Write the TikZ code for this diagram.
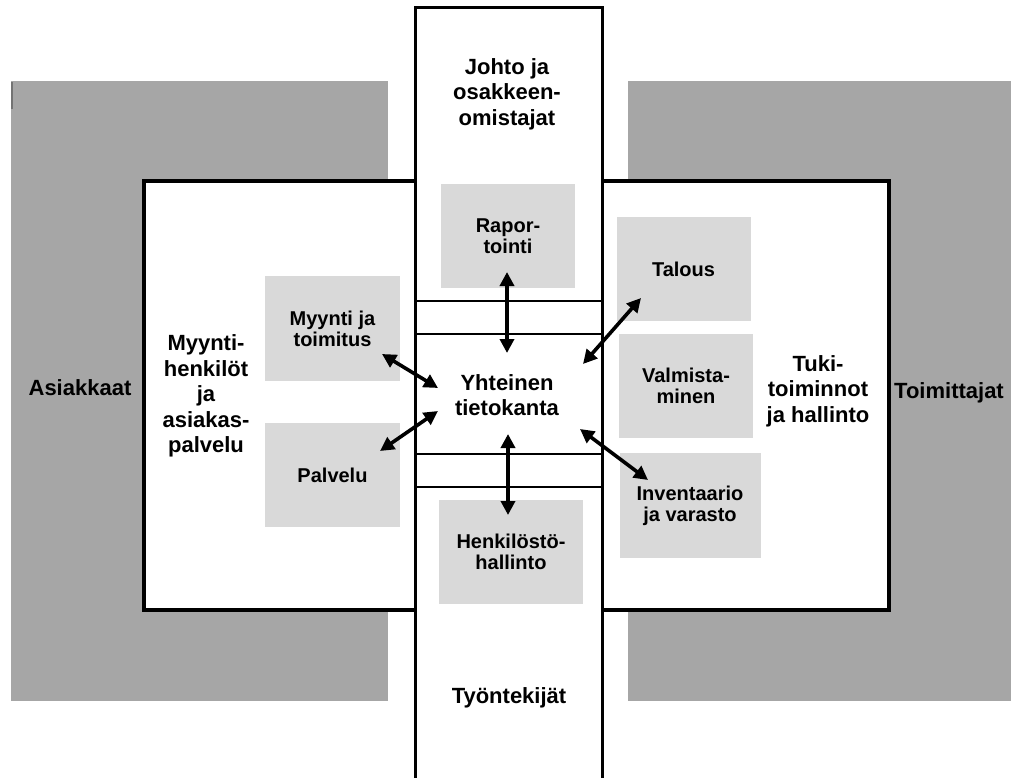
\documentclass[tikz,border=0pt]{standalone}
\usepackage{fontspec}
\setmainfont{Liberation Sans}
\usetikzlibrary{arrows.meta}
\definecolor{darkgray}{HTML}{A6A6A6}
\definecolor{lightgray}{HTML}{D9D9D9}
\tikzset{
  outer/.style={fill=darkgray, draw=none},
  mainframe/.style={fill=white, draw=black, line width=4pt},
  column/.style={fill=white, draw=black, line width=3pt},
  band/.style={draw=black, line width=1.4pt},
  lbox/.style={fill=lightgray, draw=none, inner sep=0pt, align=center,
    font=\bfseries\fontsize{20}{21}\selectfont},
  bigtext/.style={inner sep=0pt, align=center, font=\bfseries\fontsize{22}{25.5}\selectfont},
  link/.style={line width=3.6pt, {Triangle[length=14pt,width=14pt]}-{Triangle[length=14pt,width=14pt]}},
}
\begin{document}
\begin{tikzpicture}[x=1pt,y=-1pt]
\useasboundingbox (0,0) rectangle (1011,778);
% outer grey areas
\fill[outer] (11,81) rectangle (388,701);
\fill[outer] (628,81) rectangle (1011,701);
\draw[black!55, line width=2pt] (12,82) -- (12,109);
% main frame
\draw[mainframe] (143.5,181) rectangle (889,610);
% central column
\draw[column] (415,8) rectangle (602,800);
\draw[band] (415,301) -- (602,301);
\draw[band] (415,334) -- (602,334);
\draw[band] (415,454) -- (602,454);
\draw[band] (415,487) -- (602,487);
% light boxes
\node[lbox, minimum width=134pt, minimum height=104pt] (rap) at (508,236) {Rapor-\\tointi};
\node[lbox, minimum width=135pt, minimum height=105pt] (myy) at (332.5,328.5) {Myynti ja\\toimitus};
\node[lbox, minimum width=135pt, minimum height=104pt] (pal) at (332.5,475) {Palvelu};
\node[lbox, minimum width=134pt, minimum height=104pt] (tal) at (683.5,269) {Talous};
\node[lbox, minimum width=134pt, minimum height=104pt] (val) at (686,386) {Valmista-\\minen};
\node[lbox, minimum width=141pt, minimum height=105pt] (inv) at (690,505.5) {Inventaario\\ja varasto};
\node[lbox, minimum width=144pt, minimum height=104pt] (hen) at (511,552) {Henkilöstö-\\hallinto};
% big labels
\node[bigtext] (asi) at (80,388) {Asiakkaat};
\node[bigtext] (toi) at (949,393) {Toimittajat};
\node[bigtext] (mhk) at (206,396) {Myynti-\\henkilöt\\ja\\asiakas-\\palvelu};
\node[bigtext] (tuk) at (818,391) {Tuki-\\toiminnot\\ja hallinto};
\node[bigtext] (joh) at (507,94) {Johto ja\\osakkeen-\\omistajat};
\node[bigtext] (tyo) at (509,698) {Työntekijät};
\node[bigtext] (db) at (507,395) {Yhteinen\\tietokanta};
% arrow end points
\coordinate (rapE) at (507,272);
\coordinate (rapD) at (507,353);
\coordinate (talE) at (641,298);
\coordinate (talD) at (583,364);
\coordinate (invE) at (648,480);
\coordinate (invD) at (580,429);
\coordinate (henE) at (508,515);
\coordinate (henD) at (508,434);
\coordinate (myyE) at (382,354);
\coordinate (myyD) at (438,388);
\coordinate (palE) at (380,451);
\coordinate (palD) at (438,411);
\draw[link] (rapE) -- (rapD);
\draw[link] (talE) -- (talD);
\draw[link] (invE) -- (invD);
\draw[link] (henE) -- (henD);
\draw[link] (myyE) -- (myyD);
\draw[link] (palE) -- (palD);
\end{tikzpicture}
\end{document}
